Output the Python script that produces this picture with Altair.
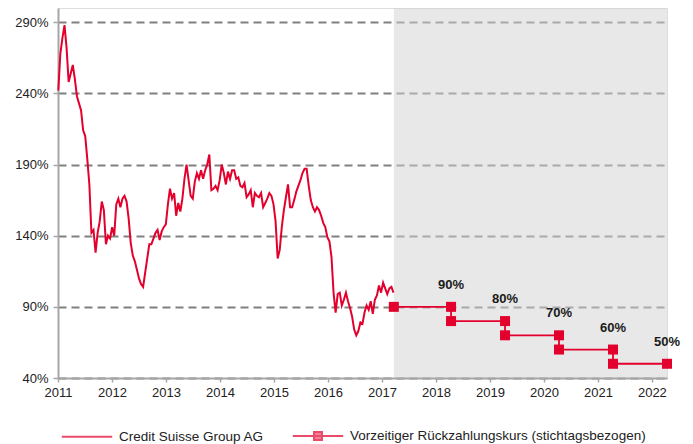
import altair as alt
import pandas as pd

RED = "#E3002D"
FONT = "Liberation Sans"

# Credit Suisse share price (in % of initial level), biweekly readings from the picture
stock_start = "2011-01-03"
stock_step_days = 14
stock_values = [
    242, 268, 279, 288, 272, 248, 254, 260, 250, 238,
    233, 228, 214, 210, 194, 176, 142, 144, 128, 142,
    150, 164, 158, 134, 140, 138, 146, 140, 162, 166,
    160, 166, 168, 164, 152, 135, 126, 122, 116, 110,
    106, 104, 114, 124, 134, 134, 138, 142, 144, 137,
    143, 146, 148, 162, 173, 166, 170, 154, 163, 157,
    166, 180, 190, 179, 168, 166, 178, 184, 180, 186,
    180, 186, 190, 197, 172, 173, 175, 172, 179, 190,
    184, 176, 185, 180, 186, 186, 180, 181, 175, 174,
    177, 167, 169, 172, 160, 170, 168, 167, 170, 160,
    163, 166, 170, 168, 162, 150, 124, 130, 146, 158,
    167, 176, 160, 160, 165, 171, 175, 179, 184, 187,
    187, 175, 165, 160, 157, 160, 158, 154, 149, 146,
    139, 136, 125, 100, 86, 99, 100, 91, 95, 100,
    94, 89, 83, 74, 70, 73, 79, 78, 86, 91,
    88, 94, 85, 95, 98, 105, 100, 107, 103, 99,
    103, 104, 100,
]

# Early redemption levels (step line)
step_years = [2017.22, 2018.28, 2018.28, 2019.28, 2019.28, 2020.28, 2020.28, 2021.28, 2021.28, 2022.28]
step_levels = [90, 90, 80, 80, 70, 70, 60, 60, 50, 50]

label_years = [2018.28, 2019.28, 2020.28, 2021.28, 2022.28]
label_levels = [90, 80, 70, 60, 50]
label_texts = ["90%", "80%", "70%", "60%", "50%"]

band_start = [2017.22]
x_domain = [2011, 2022.28]
y_domain = [40, 300]
y_ticks = [40, 90, 140, 190, 240, 290]
x_ticks = list(range(2011, 2023))

series_names = ["Credit Suisse Group AG", "Vorzeitiger Rückzahlungskurs (stichtagsbezogen)"]
legend_shapes = ["M-3.6,0H3.6", "M-3.6,0H3.6M-0.57,-0.57H0.57V0.57H-0.57Z"]

# ---- data frames ----
dates = pd.date_range(stock_start, periods=len(stock_values), freq=f"{stock_step_days}D")
days_in_year = [366 if d.is_leap_year else 365 for d in dates]
stock_x = [d.year + (d.dayofyear - 1) / n for d, n in zip(dates, days_in_year)]
stock_df = pd.DataFrame({"x": stock_x, "y": stock_values})

step_df = pd.DataFrame({"x": step_years, "y": step_levels, "i": list(range(len(step_years)))})
label_df = pd.DataFrame({"x": label_years, "y": label_levels, "t": label_texts})
band_df = pd.DataFrame({"x": band_start, "x2": [x_domain[1]], "y": [y_domain[0]], "y2": [y_domain[1]]})
legend_df = pd.DataFrame({"series": series_names, "x": [None, None], "y": [None, None]})

xscale = alt.Scale(domain=x_domain, nice=False, zero=False)
yscale = alt.Scale(domain=y_domain, nice=False, zero=False)

x_axis = alt.Axis(
    values=x_ticks, format="d", title=None, grid=False, zindex=1,
    domainColor="#A6A6A6", domainWidth=2, tickColor="#A6A6A6", tickWidth=1.5, tickSize=4,
    labelFont=FONT, labelFontSize=13, labelColor="#222222", labelPadding=4, labelFlush=False,
)
y_axis = alt.Axis(
    values=y_ticks, labelExpr="datum.value + '%'", title=None, grid=True,
    gridColor="#808080", gridWidth=2, gridDash=[8, 5],
    domainColor="#A6A6A6", domainWidth=2, tickColor="#A6A6A6", tickWidth=1.5, tickSize=5,
    labelFont=FONT, labelFontSize=13, labelColor="#222222", labelPadding=5,
)

band = alt.Chart(band_df).mark_rect(color="#d2d2d2", opacity=0.5).encode(
    x=alt.X("x:Q", scale=xscale, axis=x_axis),
    x2="x2:Q",
    y=alt.Y("y:Q", scale=yscale, axis=y_axis),
    y2="y2:Q",
)

stock = alt.Chart(stock_df).mark_line(color=RED, strokeWidth=2).encode(
    x=alt.X("x:Q", scale=xscale),
    y=alt.Y("y:Q", scale=yscale),
)

step_line = alt.Chart(step_df).mark_line(color=RED, strokeWidth=1.8).encode(
    x=alt.X("x:Q", scale=xscale),
    y=alt.Y("y:Q", scale=yscale),
    order="i:Q",
)

step_pts = alt.Chart(step_df).mark_square(color=RED, size=100, opacity=1).encode(
    x=alt.X("x:Q", scale=xscale),
    y=alt.Y("y:Q", scale=yscale),
)

labels = alt.Chart(label_df).mark_text(
    font=FONT, fontSize=13, fontWeight="bold", color="#1a1a1a", dy=-22, baseline="middle"
).encode(
    x=alt.X("x:Q", scale=xscale),
    y=alt.Y("y:Q", scale=yscale),
    text="t:N",
)

leg = alt.Legend(
    title=None, orient="none", direction="horizontal", legendX=21, legendY=420,
    symbolSize=196, symbolStrokeWidth=2, labelFont=FONT, labelFontSize=13.5,
    labelColor="#222222", labelOffset=24, columnPadding=24, padding=0, labelLimit=400,
)

legend_layer = alt.Chart(legend_df).mark_point(filled=True, strokeWidth=2).encode(
    x=alt.X("x:Q", scale=xscale),
    y=alt.Y("y:Q", scale=yscale),
    fill=alt.Fill("series:N", scale=alt.Scale(domain=series_names, range=[RED, RED]), legend=leg),
    stroke=alt.Stroke("series:N", scale=alt.Scale(domain=series_names, range=[RED, RED]), legend=leg),
    shape=alt.Shape("series:N", scale=alt.Scale(domain=series_names, range=legend_shapes), legend=leg),
)

chart = alt.layer(band, stock, step_line, step_pts, labels, legend_layer).properties(
    width=609, height=370,
    autosize=alt.AutoSizeParams(type="none"),
    padding={"left": 58, "top": 8, "right": 26, "bottom": 66},
).configure_view(stroke=None).configure(background="white")

chart.save("out.html", embed_options={"renderer": "svg", "actions": False})
